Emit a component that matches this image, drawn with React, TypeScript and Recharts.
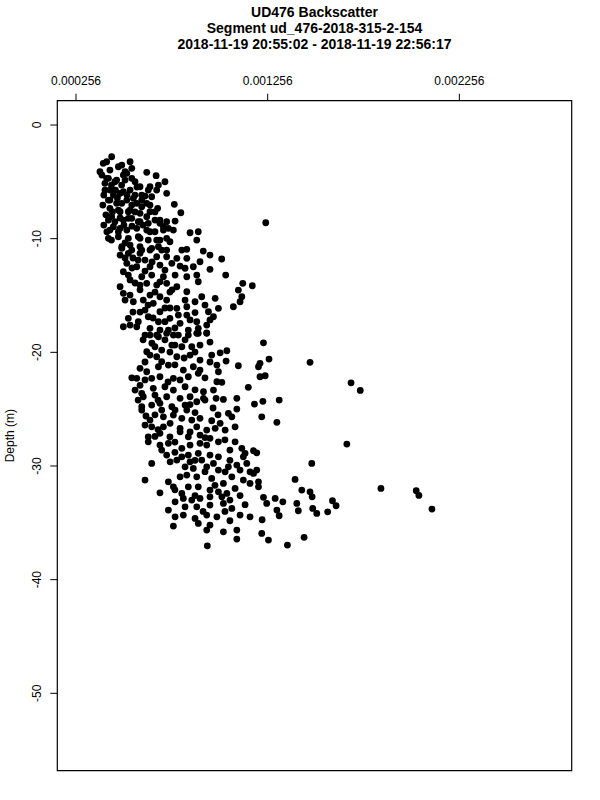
import React from 'react';
import {
  ScatterChart,
  Scatter,
  XAxis,
  YAxis,
  ReferenceArea,
} from 'recharts';

// title lines, axis ticks and ranges
const TITLE_LINES = [
  'UD476 Backscatter',
  'Segment ud_476-2018-315-2-154',
  '2018-11-19 20:55:02 - 2018-11-19 22:56:17',
];
const X_TICKS = [0.000256, 0.001256, 0.002256];
const Y_TICKS = [0, -10, -20, -30, -40, -50];
const X_RANGE: [number, number] = [0.0001584, 0.0028422];
const Y_RANGE: [number, number] = [-56.81, 2.14];

// [backscatter, depth (m)], split by depth band
const shallowPoints: [number, number][] = [
  [442e-6, -2.79], [416e-6, -3.23], [398e-6, -3.37], [381e-6, -4.11], [433e-6, -3.96],
  [495e-6, -3.52], [538e-6, -3.23], [547e-6, -3.81], [512e-6, -4.11], [503e-6, -4.4],
  [625e-6, -4.16], [674e-6, -4.46], [720e-6, -4.99], [416e-6, -4.69], [407e-6, -5.13],
  [459e-6, -4.99], [564e-6, -4.99], [590e-6, -5.43], [633e-6, -5.72], [686e-6, -5.28],
  [677e-6, -5.72], [433e-6, -5.72], [451e-6, -6.16], [486e-6, -6.01], [538e-6, -5.72],
  [555e-6, -6.45], [599e-6, -6.6], [651e-6, -6.31], [433e-6, -6.6], [495e-6, -6.89],
  [547e-6, -7.04], [599e-6, -7.19], [682e-6, -7.33], [769e-6, -6.98], [803e-6, -7.72],
  [433e-6, -7.33], [477e-6, -7.48], [529e-6, -7.63], [590e-6, -7.77], [625e-6, -8.07],
  [1246e-6, -8.6], [442e-6, -8.07], [459e-6, -8.51], [503e-6, -8.36], [547e-6, -8.21],
  [590e-6, -8.51], [668e-6, -8.36], [694e-6, -8.65], [729e-6, -8.51], [773e-6, -8.45],
  [738e-6, -9.09], [764e-6, -9.24], [712e-6, -8.95], [451e-6, -8.95], [477e-6, -9.39],
  [521e-6, -9.24], [573e-6, -9.09], [642e-6, -9.39], [425e-6, -9.97], [477e-6, -9.83],
  [529e-6, -9.97], [581e-6, -9.83], [633e-6, -10.12], [677e-6, -10.12], [746e-6, -10.27],
  [851e-6, -9.48], [894e-6, -9.39], [886e-6, -10.12],
  [477e-6, -3.67], [521e-6, -4.25], [425e-6, -4.69], [468e-6, -4.84], [547e-6, -4.69],
  [642e-6, -5.43], [729e-6, -6.01], [407e-6, -5.72], [503e-6, -5.87], [599e-6, -6.16],
  [425e-6, -6.6], [468e-6, -6.89], [521e-6, -6.6], [573e-6, -6.89], [625e-6, -6.89],
  [486e-6, -7.63], [538e-6, -7.48], [642e-6, -7.63], [694e-6, -8.36], [425e-6, -8.36],
  [529e-6, -8.21], [581e-6, -8.51], [633e-6, -8.65], [433e-6, -9.24], [486e-6, -9.09],
  [625e-6, -9.24], [668e-6, -9.39], [712e-6, -9.24], [590e-6, -9.97], [694e-6, -10.12],
  [729e-6, -9.97],
  [391e-6, -4.4], [401e-6, -6.16], [396e-6, -7.04], [412e-6, -7.9], [401e-6, -8.8],
  [417e-6, -9.4], [441e-6, -5.28], [446e-6, -7.65], [462e-6, -5.72], [472e-6, -6.42],
  [494e-6, -5.28], [512e-6, -4.84], [522e-6, -6.16], [564e-6, -6.16], [574e-6, -5.46],
  [486e-6, -8.18], [506e-6, -8.8], [548e-6, -8.9], [564e-6, -7.65], [616e-6, -6.25],
  [642e-6, -7.04], [668e-6, -7.65], [605e-6, -8.8], [441e-6, -10.12], [512e-6, -10.38],
];

const upperMidPoints: [number, number][] = [
  [495e-6, -10.71], [538e-6, -10.56], [590e-6, -10.71], [642e-6, -11.0], [686e-6, -10.71],
  [729e-6, -11.0], [808e-6, -11.0], [834e-6, -10.94], [920e-6, -11.09], [955e-6, -11.44],
  [1016e-6, -11.79], [486e-6, -11.44], [529e-6, -11.29], [590e-6, -11.29], [677e-6, -11.59],
  [729e-6, -11.59], [782e-6, -11.73], [834e-6, -11.73], [903e-6, -12.03], [521e-6, -12.17],
  [573e-6, -12.47], [642e-6, -12.47], [694e-6, -12.32], [756e-6, -12.17], [799e-6, -12.41],
  [868e-6, -12.47], [955e-6, -12.7], [503e-6, -12.91], [529e-6, -13.2], [599e-6, -13.35],
  [651e-6, -13.2], [712e-6, -13.35], [773e-6, -13.2], [834e-6, -13.35], [886e-6, -13.2],
  [1037e-6, -13.2], [486e-6, -14.23], [503e-6, -14.81], [625e-6, -13.93], [677e-6, -14.08],
  [729e-6, -13.93], [782e-6, -14.23], [834e-6, -14.67], [894e-6, -13.79], [1126e-6, -13.93],
  [1176e-6, -14.14], [1103e-6, -14.52], [1121e-6, -15.11], [1112e-6, -15.55], [1077e-6, -15.99],
  [642e-6, -14.96], [694e-6, -15.11], [607e-6, -15.4], [659e-6, -15.69], [555e-6, -15.55],
  [729e-6, -15.4], [782e-6, -16.13], [834e-6, -15.99], [877e-6, -15.55], [912e-6, -15.11],
  [982e-6, -15.25], [999e-6, -16.13], [947e-6, -16.43], [973e-6, -16.87], [616e-6, -16.28],
  [694e-6, -16.43], [529e-6, -17.01], [581e-6, -17.31], [633e-6, -16.87], [686e-6, -17.31],
  [746e-6, -17.01], [790e-6, -16.72], [834e-6, -16.72], [799e-6, -17.45], [886e-6, -17.31],
  [938e-6, -17.6], [503e-6, -17.75], [573e-6, -17.75], [642e-6, -17.89], [694e-6, -18.04],
  [738e-6, -18.04], [842e-6, -18.04], [894e-6, -17.89], [616e-6, -18.48], [677e-6, -18.48],
  [764e-6, -18.48], [886e-6, -18.33], [938e-6, -18.28],
  [495e-6, -10.85], [547e-6, -11.0], [599e-6, -11.0], [651e-6, -10.85], [703e-6, -11.0],
  [553e-6, -11.7], [616e-6, -11.88], [548e-6, -12.58], [616e-6, -12.85], [564e-6, -13.9],
  [590e-6, -14.5], [538e-6, -14.96], [668e-6, -14.7], [746e-6, -14.7], [720e-6, -16.1],
  [590e-6, -16.46], [877e-6, -16.5],
  [512e-6, -11.7], [580e-6, -11.88], [653e-6, -12.05], [720e-6, -12.76], [825e-6, -12.6],
  [538e-6, -13.63], [590e-6, -14.08], [694e-6, -13.8], [757e-6, -14.5], [512e-6, -15.4],
  [632e-6, -15.84], [746e-6, -16.1], [825e-6, -15.4], [929e-6, -15.84], [553e-6, -16.46],
  [658e-6, -16.98], [720e-6, -17.3], [851e-6, -17.15], [955e-6, -17.15], [538e-6, -17.6],
  [772e-6, -17.86],
];

const lowerMidPoints: [number, number][] = [
  [642e-6, -18.48], [686e-6, -18.63], [729e-6, -18.33], [790e-6, -18.48], [842e-6, -18.48],
  [894e-6, -18.33], [938e-6, -18.33], [1234e-6, -19.16], [625e-6, -19.95], [668e-6, -19.51],
  [703e-6, -19.8], [756e-6, -19.36], [808e-6, -19.51], [860e-6, -19.51], [964e-6, -20.24],
  [1008e-6, -20.04], [1043e-6, -19.86], [1263e-6, -20.59], [1477e-6, -20.88], [677e-6, -20.39],
  [703e-6, -20.83], [782e-6, -20.39], [851e-6, -20.24], [903e-6, -20.68], [1039e-6, -20.77],
  [1216e-6, -20.97], [1208e-6, -21.27], [1103e-6, -21.18], [590e-6, -21.41], [625e-6, -21.71],
  [686e-6, -21.27], [738e-6, -21.12], [816e-6, -21.56], [868e-6, -21.27], [903e-6, -21.56],
  [991e-6, -21.12], [999e-6, -21.71], [547e-6, -22.24], [573e-6, -22.29], [651e-6, -22.29],
  [694e-6, -22.15], [764e-6, -22.29], [842e-6, -22.15], [894e-6, -21.85], [991e-6, -22.59],
  [1017e-6, -22.64], [1216e-6, -22.15], [1243e-6, -22.06], [1691e-6, -22.68], [1739e-6, -23.35],
  [564e-6, -23.32], [599e-6, -23.61], [659e-6, -23.17], [720e-6, -23.03], [764e-6, -23.32],
  [825e-6, -23.03], [921e-6, -23.47], [973e-6, -23.32], [1155e-6, -23.08], [607e-6, -23.91],
  [668e-6, -23.76], [729e-6, -23.91], [799e-6, -24.05], [851e-6, -23.91], [921e-6, -24.05],
  [987e-6, -24.05], [1025e-6, -24.14], [1095e-6, -24.05], [1316e-6, -24.2], [1231e-6, -24.31],
  [1187e-6, -24.55], [599e-6, -24.79], [651e-6, -24.64], [694e-6, -24.49], [756e-6, -24.79],
  [825e-6, -24.64], [886e-6, -24.35], [929e-6, -24.2], [599e-6, -25.08], [703e-6, -25.08],
  [773e-6, -25.08], [834e-6, -25.08], [1051e-6, -25.37], [1095e-6, -24.99], [1069e-6, -25.67],
  [1225e-6, -25.67], [1304e-6, -26.16], [642e-6, -25.96], [712e-6, -25.67], [764e-6, -25.52],
  [808e-6, -25.81], [860e-6, -25.96], [903e-6, -25.81], [964e-6, -26.02], [1008e-6, -26.25],
  [1086e-6, -26.55], [651e-6, -26.55], [712e-6, -26.55], [747e-6, -26.25], [799e-6, -26.69],
  [886e-6, -26.55], [938e-6, -26.84], [982e-6, -26.69], [1034e-6, -26.84], [633e-6, -27.43],
  [694e-6, -27.13], [746e-6, -27.43], [799e-6, -26.99], [842e-6, -27.43], [903e-6, -27.28],
  [955e-6, -27.57], [999e-6, -27.87], [1086e-6, -27.87], [633e-6, -27.87], [694e-6, -28.16],
  [738e-6, -28.01], [808e-6, -28.45], [851e-6, -28.16], [903e-6, -28.01], [938e-6, -28.16],
  [1059e-6, -28.6], [1121e-6, -28.45], [1182e-6, -28.66], [1669e-6, -28.07],
  [580e-6, -24.2], [621e-6, -25.6], [668e-6, -27.4],
  [606e-6, -18.9], [652e-6, -19.2], [720e-6, -18.9], [772e-6, -19.36], [825e-6, -18.9],
  [903e-6, -19.36], [955e-6, -19.1], [642e-6, -20.24], [746e-6, -19.98], [820e-6, -20.5],
  [877e-6, -19.98], [955e-6, -20.85], [616e-6, -20.85], [772e-6, -21.1],
  [616e-6, -22.43], [736e-6, -22.6], [799e-6, -22.43], [929e-6, -22.24], [590e-6, -22.9],
  [877e-6, -23.3], [684e-6, -24.2], [851e-6, -24.6], [971e-6, -24.9], [668e-6, -25.5],
  [877e-6, -25.3], [997e-6, -25.5], [616e-6, -26.4], [851e-6, -27.0], [929e-6, -27.5],
  [772e-6, -27.9], [1033e-6, -27.7], [684e-6, -26.8],
];

const deepPoints: [number, number][] = [
  [703e-6, -28.6], [729e-6, -29.04], [808e-6, -29.19], [842e-6, -29.04], [894e-6, -28.89],
  [955e-6, -29.04], [999e-6, -29.19], [1129e-6, -29.19], [1138e-6, -28.89], [1199e-6, -28.84],
  [651e-6, -29.77], [747e-6, -29.63], [782e-6, -29.48], [851e-6, -29.63], [912e-6, -29.48],
  [973e-6, -29.77], [1051e-6, -30.07], [1095e-6, -29.92], [1147e-6, -29.77], [1486e-6, -29.77],
  [825e-6, -30.07], [868e-6, -30.21], [938e-6, -30.07], [999e-6, -30.36], [1034e-6, -30.51],
  [1112e-6, -30.36], [1164e-6, -30.51], [1199e-6, -30.36], [1182e-6, -30.65], [616e-6, -31.24],
  [738e-6, -31.39], [799e-6, -30.95], [834e-6, -30.8], [886e-6, -30.95], [964e-6, -31.09],
  [1025e-6, -31.53], [1069e-6, -30.95], [1129e-6, -31.24], [1164e-6, -31.53], [1208e-6, -31.39],
  [1399e-6, -31.18], [694e-6, -32.36], [764e-6, -31.83], [808e-6, -32.41], [842e-6, -31.83],
  [894e-6, -31.83], [955e-6, -32.12], [999e-6, -32.27], [1043e-6, -32.41], [1086e-6, -31.97],
  [1208e-6, -31.83], [1434e-6, -32.12], [1477e-6, -32.27], [1488e-6, -32.71], [1847e-6, -31.97],
  [2031e-6, -32.18], [2045e-6, -32.59], [2113e-6, -33.79], [773e-6, -33.15], [816e-6, -32.85],
  [860e-6, -33.0], [903e-6, -32.85], [955e-6, -32.71], [1017e-6, -32.71], [1059e-6, -33.0],
  [1234e-6, -32.76], [1295e-6, -32.85], [1335e-6, -33.15], [1408e-6, -33.29], [1251e-6, -33.29],
  [738e-6, -33.88], [825e-6, -33.59], [886e-6, -33.59], [955e-6, -33.44], [1025e-6, -33.29],
  [1069e-6, -33.73], [1304e-6, -33.88], [1416e-6, -33.94], [1491e-6, -33.73], [1512e-6, -34.17],
  [1569e-6, -34.03], [1594e-6, -33.06], [1613e-6, -33.5], [773e-6, -34.47], [816e-6, -34.32],
  [877e-6, -34.61], [938e-6, -34.32], [991e-6, -34.47], [1112e-6, -34.32], [1164e-6, -34.47],
  [1227e-6, -34.73], [1316e-6, -34.38], [764e-6, -35.29], [894e-6, -35.05], [955e-6, -35.2],
  [1059e-6, -34.82], [1095e-6, -35.64], [938e-6, -35.64], [1025e-6, -35.79], [1225e-6, -35.93],
  [1260e-6, -36.52], [1095e-6, -36.43], [1446e-6, -36.28], [1359e-6, -36.96], [941e-6, -37.02],
  [772e-6, -28.8], [877e-6, -29.5], [929e-6, -30.5], [1059e-6, -29.5], [981e-6, -31.7],
  [877e-6, -32.6], [1112e-6, -32.6], [1138e-6, -33.4], [772e-6, -32.1], [919e-6, -34.0],
  [1033e-6, -34.0],
];

const allPoints = [...shallowPoints, ...upperMidPoints, ...lowerMidPoints, ...deepPoints].map(
  ([bs, depth]) => ({ bs, depth })
);

const FONT = '"Liberation Sans", Arial, Helvetica, sans-serif';

const Dot = (props: any) => <circle cx={props.cx} cy={props.cy} r={3.4} fill="#000" />;

const XTick = (props: any) => {
  const { x, y, payload } = props;
  return (
    <text x={x} y={y} textAnchor="middle" fontSize={12} fontFamily={FONT} fill="#000">
      {payload.value.toFixed(6)}
    </text>
  );
};

const YTick = (props: any) => {
  const { x, y, payload } = props;
  return (
    <text
      x={0}
      y={0}
      transform={`translate(${x - 7.5},${y}) rotate(-90)`}
      textAnchor="middle"
      fontSize={12}
      fontFamily={FONT}
      fill="#000"
    >
      {payload.value}
    </text>
  );
};

export default function App() {
  return (
    <div style={styles.page}>
      <div style={styles.titleBox}>
        {TITLE_LINES.map((line, i) => (
          <div key={line} style={{ ...styles.titleLine, top: 4 + i * 16 }}>
            {line}
          </div>
        ))}
      </div>
      <ScatterChart
        width={600}
        height={800}
        margin={{ top: 60, right: 28.3, bottom: 29.3, left: 0 }}
      >
        <XAxis
          type="number"
          dataKey="bs"
          orientation="top"
          domain={X_RANGE}
          ticks={X_TICKS}
          allowDataOverflow
          height={40.7}
          axisLine={false}
          tickLine={{ stroke: '#000' }}
          tickSize={7}
          tickMargin={9}
          tick={<XTick />}
        />
        <YAxis
          type="number"
          dataKey="depth"
          domain={Y_RANGE}
          ticks={Y_TICKS}
          allowDataOverflow
          width={57.3}
          axisLine={false}
          tickLine={{ stroke: '#000' }}
          tickSize={7}
          tickMargin={2}
          tick={<YTick />}
          label={(props: any) => {
            const vb = props.viewBox || { y: 100.7, height: 670 };
            return (
              <text
                x={0}
                y={0}
                transform={`translate(13.5,${vb.y + vb.height / 2}) rotate(-90)`}
                textAnchor="middle"
                fontSize={12}
                fontFamily={FONT}
                fill="#000"
              >
                Depth (m)
              </text>
            );
          }}
        />
        <Scatter data={allPoints} shape={<Dot />} isAnimationActive={false} />
        <ReferenceArea
          x1={X_RANGE[0]}
          x2={X_RANGE[1]}
          y1={Y_RANGE[0]}
          y2={Y_RANGE[1]}
          fill="none"
          stroke="#000"
          strokeWidth={1.2}
          ifOverflow="visible"
        />
      </ScatterChart>
    </div>
  );
}

const styles: Record<string, React.CSSProperties> = {
  page: {
    position: 'absolute',
    left: 0,
    top: 0,
    width: 600,
    height: 800,
    background: '#fff',
  },
  titleBox: {
    position: 'absolute',
    left: 57.3,
    top: 0,
    width: 514.4,
    height: 60,
  },
  titleLine: {
    position: 'absolute',
    left: 0,
    width: '100%',
    textAlign: 'center',
    fontFamily: FONT,
    fontWeight: 700,
    fontSize: 14,
    lineHeight: '16px',
    color: '#000',
  },
};
